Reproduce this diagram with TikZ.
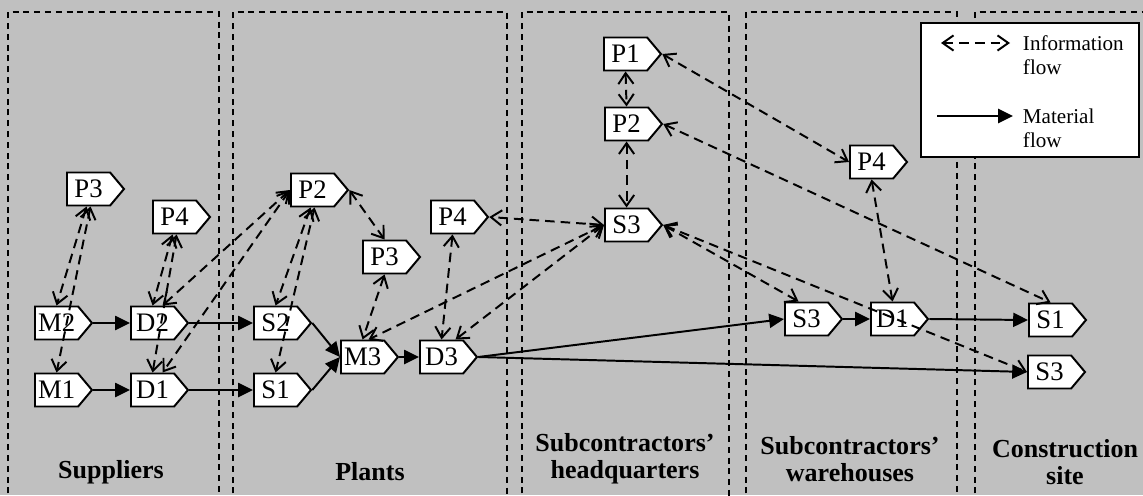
\documentclass[tikz,border=0pt]{standalone}
\usepackage{fontspec}
\setmainfont{Liberation Serif}
\usetikzlibrary{shapes.symbols,arrows.meta}
\definecolor{panelgray}{RGB}{192,192,192}

\begin{document}
\begin{tikzpicture}[line width = 1.4pt,
    stage/.style = {signal, signal to = east, signal pointer angle = 100, draw, fill = white,
                    anchor = west, minimum width = 1.425cm, minimum height = 0.825cm,
                    inner sep = 0pt, font = \fontsize{19}{19}\selectfont},
    region/.style = {draw, line width = 1pt, dash pattern = on 0.15cm off 0.12cm},
    caption/.style = {align = center, font = \fontsize{18.5}{19.5}\selectfont\bfseries},
    legendtext/.style = {anchor = west, align = left, inner sep = 0pt, font = \fontsize{15}{16.8}\selectfont},
    info/.style = {dash pattern = on 0.24cm off 0.15cm,
                   {Straight Barb[length = 0.27cm, width = 0.38cm]}-{Straight Barb[length = 0.27cm, width = 0.38cm]}},
    material/.style = {-{Triangle[length = 0.37cm, width = 0.35cm]}}]
    \useasboundingbox (0, 0) rectangle (28.575, 12.375);
    \fill [panelgray] (0, 0) rectangle (28.575, 12.375);

    \draw [region] (0.2, -0.5) rectangle (5.475, 12.075);
    \draw [region] (5.825, -0.5) rectangle (12.675, 12.075);
    \draw [region] (13.05, -0.5) rectangle (18.225, 12.075);
    \draw [region] (18.65, -0.5) rectangle (23.925, 12.075);
    \draw [region] (24.375, -0.5) rectangle (28.75, 12.075);

    \node [caption] (suppliers) at (2.775, 0.575) {Suppliers};
    \node [caption] (plants) at (9.25, 0.575) {Plants};
    \node [caption] (hq) at (15.625, 0.9) {Subcontractors'\\headquarters};
    \node [caption] (warehouses) at (21.25, 0.9) {Subcontractors'\\warehouses};
    \node [caption] (site) at (26.625, 0.825) {Construction\\site};

    \node [stage] (sP3) at (1.65, 7.65) {P3};
    \node [stage] (sP4) at (3.8, 6.95) {P4};
    \node [stage] (sM2) at (0.85, 4.3) {M2};
    \node [stage] (sD2) at (3.25, 4.3) {D2};
    \node [stage] (sM1) at (0.85, 2.625) {M1};
    \node [stage] (sD1) at (3.25, 2.625) {D1};
    \node [stage] (pP2) at (7.25, 7.625) {P2};
    \node [stage] (pP3) at (9.05, 5.95) {P3};
    \node [stage] (pP4) at (10.75, 6.95) {P4};
    \node [stage] (pS2) at (6.325, 4.3) {S2};
    \node [stage] (pS1) at (6.325, 2.625) {S1};
    \node [stage] (pM3) at (8.5, 3.45) {M3};
    \node [stage] (pD3) at (10.475, 3.45) {D3};
    \node [stage] (hP1) at (15.075, 11.025) {P1};
    \node [stage] (hP2) at (15.1, 9.275) {P2};
    \node [stage] (hS3) at (15.1, 6.75) {S3};
    \node [stage] (wP4) at (21.225, 8.325) {P4};
    \node [stage] (wS3) at (19.6, 4.4) {S3};
    \node [stage] (wD1) at (21.75, 4.4) {D1};
    \node [stage] (cS1) at (25.7, 4.375) {S1};
    \node [stage] (cS3) at (25.675, 3.075) {S3};

    \draw [material] (sM2.east)--(sD2.west);
    \draw [material] (sM1.east)--(sD1.west);
    \draw [material] (sD2.east)--(pS2.west);
    \draw [material] (sD1.east)--(pS1.west);
    \draw [material] (pS2.east)--(pM3.west);
    \draw [material] (pS1.east)--(pM3.west);
    \draw [material] (pM3.east)--(pD3.west);
    \draw [material] (pD3.east)--(wS3.west);
    \draw [material] (pD3.east)--(cS3.west);
    \draw [material] (wS3.east)--(wD1.west);
    \draw [material] (wD1.east)--(cS1.west);

    \draw [info] ([xshift = -0.05cm]sP3.south)--(sM2.north);
    \draw [info] ([xshift = 0.05cm]sP3.south)--(sM1.north);
    \draw [info] ([xshift = -0.05cm]sP4.south)--(sD2.north);
    \draw [info] ([xshift = 0.05cm]sP4.south)--(sD1.north);
    \draw [info] (pP2.west)--([xshift = 0.25cm]sD2.north);
    \draw [info] (pP2.west)--([xshift = 0.25cm]sD1.north);
    \draw [info] ([xshift = -0.05cm]pP2.south)--(pS2.north);
    \draw [info] ([xshift = 0.05cm]pP2.south)--(pS1.north);
    \draw [info] (pP2.east)--(pP3.north);
    \draw [info] (pP3.south)--(pM3.north);
    \draw [info] (pP4.south)--(pD3.north);
    \draw [info] (hS3.west)--(pP4.east);
    \draw [info] (hS3.west)--([xshift = 0.15cm]pM3.north);
    \draw [info] (hS3.west)--([xshift = 0.35cm]pD3.north);
    \draw [info] (hP1.south)--(hP2.north);
    \draw [info] (hP2.south)--(hS3.north);
    \draw [info] (hP1.east)--(wP4.west);
    \draw [info] (hP2.east)--(cS1.north);
    \draw [info] (hS3.east)--([xshift = -0.2cm]wS3.north);
    \draw [info] (hS3.east)--(cS3.west);
    \draw [info] (wP4.south)--(wD1.north);

    \node [draw, fill = white, line width = 1.6pt, minimum width = 5.45cm, minimum height = 3.35cm] (legend) at (25.75, 10.125) {};
    \coordinate (infoA) at (23.525, 11.3);
    \coordinate (infoB) at (25.25, 11.3);
    \coordinate (matA) at (23.425, 9.475);
    \coordinate (matB) at (25.325, 9.475);
    \draw [info] (infoA)--(infoB);
    \draw [material] (matA)--(matB);
    \node [legendtext] (infotext) at (25.55, 10.99) {Information\\flow};
    \node [legendtext] (mattext) at (25.55, 9.175) {Material\\flow};
\end{tikzpicture}
\end{document}
